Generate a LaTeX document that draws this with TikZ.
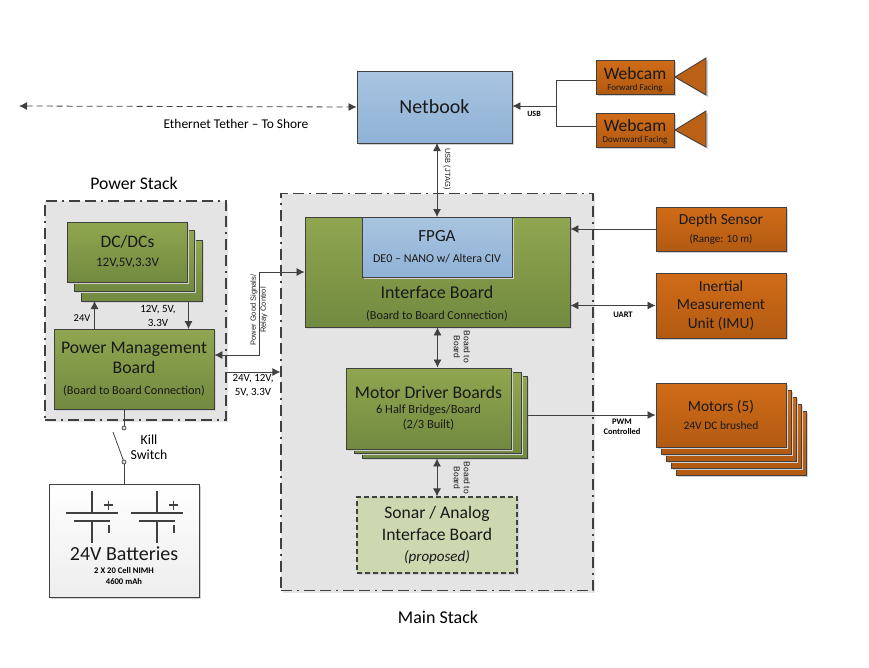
\documentclass[tikz,border=0pt]{standalone}
\usepackage{fontspec}
\setmainfont{Carlito}
\newfontfamily\armfont{Liberation Sans}
\usetikzlibrary{arrows.meta,shadows}
\definecolor{linegray}{HTML}{404040}
\definecolor{stackgray}{HTML}{E4E4E4}
\newcommand{\sz}[2]{\fontsize{#1}{#2}\selectfont}
\begin{document}
\begin{tikzpicture}[x=1pt,y=-1pt,
		>={Latex[length=8pt,width=8pt]},
		conn/.style={draw=linegray,line width=0.8pt},
		tag/.style={inner sep=0pt,align=center,text=black},
		sidetag/.style={inner sep=0pt,align=center,font=\armfont\sz{7.5}{10},text=black!90},
		board/.style={draw=linegray,line width=0.9pt,inner sep=0pt,align=center,text=black!90,drop shadow={shadow xshift=2pt,shadow yshift=-2pt,fill=black!18,opacity=1}},
		greenbox/.style={board,top color=green1,bottom color=green2},
		bluebox/.style={board,top color=blue1,bottom color=blue2},
		orangebox/.style={board,top color=orange1,bottom color=orange2},
		stackbox/.style={draw=linegray,fill=stackgray,line width=1.3pt,dash pattern=on 11pt off 5pt on 2pt off 5pt on 11pt off 5pt,drop shadow={shadow xshift=2pt,shadow yshift=-2pt,fill=black!10,opacity=1}},
		cell/.style={draw=linegray,line width=1.2pt},
		contact/.style={circle,draw=linegray,fill=stackgray,line width=0.7pt,minimum size=4pt,inner sep=0pt}
	]
	\definecolor{green1}{HTML}{90A650}
	\definecolor{green2}{HTML}{728A40}
	\definecolor{blue1}{HTML}{A8C4E0}
	\definecolor{blue2}{HTML}{90B2D6}
	\definecolor{orange1}{HTML}{D06C18}
	\definecolor{orange2}{HTML}{B25A12}
	\useasboundingbox (0,0) rectangle (869,667);

	\node[stackbox,minimum width=312pt,minimum height=397pt] (mainStack) at (437,392) {};
	\node[stackbox,minimum width=181pt,minimum height=219pt] (powerStack) at (135.5,310.5) {};
	\node[tag,font=\sz{17.7}{21}] (powerTitle) at (134,183) {Power Stack};
	\node[tag,font=\sz{18}{21}] (mainTitle) at (438,617) {Main Stack};

	\node[bluebox,minimum width=155pt,minimum height=72pt,font=\sz{20}{24}] (netbook) at (434.5,107) {Netbook};
	\node[orangebox,minimum width=78pt,minimum height=34pt] (webcamF) at (635,77) {};
	\node[orangebox,minimum width=78pt,minimum height=34pt] (webcamD) at (635,130) {};
	\foreach \y/\name/\note in {73/F/Forward Facing,125/D/Downward Facing} {
		\node[tag,font=\sz{17.5}{18},text=black!90] (webcam\name Title) at (635,\y) {Webcam};
		\node[tag,font=\sz{9}{10},text=black!90] (webcam\name Note) at (635,\y+15) {\note};
	}
	\draw[board,fill=orange1!90!black] (675,77) -- (706,58) -- (706,95) -- cycle;
	\draw[board,fill=orange1!90!black] (675,130) -- (706,111) -- (706,147) -- cycle;

	\node[greenbox,minimum width=121pt,minimum height=61pt] (dcdcBack) at (141.5,270.5) {};
	\node[greenbox,minimum width=120pt,minimum height=61pt] (dcdcMid) at (134,260.5) {};
	\node[greenbox,minimum width=119.5pt,minimum height=60pt] (dcdc) at (127.5,252) {\sz{17.5}{18}DC/DCs\\[7pt]\sz{13}{15}12V,5V,3.3V};
	\node[greenbox,minimum width=160pt,minimum height=80pt] (powerBoard) at (134,369) {\sz{17.7}{18}Power Management\\[4pt]\sz{17.7}{18}Board\\[9pt]\sz{12.2}{15}(Board to Board Connection)};

	\node[greenbox,minimum width=265pt,minimum height=110pt] (interface) at (437.5,272) {};
	\node[bluebox,minimum width=150pt,minimum height=60pt] (fpga) at (437,247) {\sz{17}{18}FPGA\\[9pt]\sz{12}{14}DE0 -- NANO w/ Altera CIV};
	\node[tag,font=\sz{18}{21},text=black!90] (interfaceTitle) at (437,292) {Interface Board};
	\node[tag,font=\sz{12.2}{15},text=black!90] (interfaceNote) at (437,316) {(Board to Board Connection)};

	\node[greenbox,minimum width=165pt,minimum height=82pt] (motorBack) at (444.5,417) {};
	\node[greenbox,minimum width=167pt,minimum height=81pt] (motorMid) at (437.5,412.5) {};
	\node[greenbox,minimum width=165pt,minimum height=81pt] (motorBoard) at (428.5,408.5) {\sz{17.7}{18}Motor Driver Boards\\[3pt]\sz{12.5}{15}6 Half Bridges/Board\\[3pt]\sz{12.5}{15}(2/3 Built)};
	\node[board,fill=green1!45,line width=1.2pt,dash pattern=on 5pt off 3pt,minimum width=160pt,minimum height=76pt] (sonar) at (437,535) {\sz{17.6}{18}Sonar / Analog\\[6pt]\sz{17.6}{18}Interface Board\\[9pt]\sz{15}{18}\textit{(proposed)}};

	\node[orangebox,minimum width=130pt,minimum height=44pt] (depth) at (721,229) {\sz{15.4}{17}Depth Sensor\\[6pt]\sz{11}{13}(Range: 10 m)};
	\node[orangebox,minimum width=130pt,minimum height=65pt,font=\sz{15.4}{18.5}] (imu) at (721,305.5) {Inertial\\Measurement\\Unit (IMU)};
	\foreach \i in {4,...,1}
		\node[orangebox,minimum width=130pt,minimum height=64pt] (motor\i) at (721+5*\i,415+7*\i) {};
	\node[orangebox,minimum width=130pt,minimum height=64pt] (motors) at (721,415) {\sz{15.4}{18}Motors (5)\\[6pt]\sz{11.5}{13}24V DC brushed};

	\node[board,top color=white,bottom color=black!7,minimum width=150pt,minimum height=113pt] (batteries) at (124,540.5) {};
	\foreach \x in {92,157} {
		\draw[cell] (\x,491) -- (\x,513) (\x-26,513) -- (\x+26,513);
		\draw[cell] (\x-18,521) -- (\x+18,521) (\x,521) -- (\x,543);
		\draw[cell] (\x+12,505) -- (\x+21,505) (\x+16.5,500.5) -- (\x+16.5,509.5);
		\draw[cell] (\x+17,525) -- (\x+17,533);
	}
	\node[tag,font=\sz{20}{24},text=black!90] (batteryTitle) at (124,554) {24V Batteries};
	\node[tag,font=\sz{8.6}{11}\bfseries] (batteryNote) at (124,576.5) {2 X 20 Cell NIMH\\4600 mAh};

	\coordinate (tether) at (19,106);
	\coordinate (usbJoin) at (556,106);
	\coordinate (jtagTop) at (437,143);
	\coordinate (jtagEnd) at (437,217);
	\coordinate (goodBend) at (259,355);
	\coordinate (railStart) at (226,372);
	\node[contact] (switchTop) at (124,428) {};
	\node[contact] (switchEnd) at (124,462) {};
	\coordinate (bladeEnd) at (113,432);

	\draw[conn,<->,dash pattern=on 6pt off 4pt] (tether) -- (netbook.west);
	\draw[conn] ([yshift=-3pt]webcamF.west) -| (usbJoin);
	\draw[conn] ([yshift=4pt]webcamD.west) -| (usbJoin);
	\draw[conn,->] (usbJoin) -- (usbJoin -| netbook.east);
	\draw[conn,<->] (jtagTop) -- (jtagEnd);
	\draw[conn,<-] (depth.west -| interface.east) -- (depth.west);
	\draw[conn,<->] (imu.west -| interface.east) -- (imu.west);
	\draw[conn,<->] (interface.south) -- (motorBoard.north -| interface.south);
	\draw[conn,<->] (motorBack.south -| sonar.north) -- (sonar.north);
	\draw[conn,->] (motorBack.east |- motors.west) -- (motors.west);
	\draw[conn,<->] (goodBend -| powerBoard.east) -- (goodBend) |- (interface.west);
	\draw[conn,->] (railStart) -- (railStart -| mainStack.west);
	\draw[conn,->] (94.5,329) -- (94.5,301);
	\draw[conn,->] (188.5,301) -- (188.5,329);
	\draw[conn] (powerBoard.south -| switchTop) -- (switchTop);
	\draw[conn] (switchEnd) -- (batteries.north -| switchEnd);
	\draw[conn] (bladeEnd) -- (switchEnd);

	\node[tag,font=\sz{13.4}{16}] (tetherTag) at (236,124) {Ethernet Tether -- To Shore};
	\node[tag,font=\sz{8}{9}\bfseries] (usbTag) at (534,114) {USB};
	\node[sidetag,rotate=-90] (jtagTag) at (447,169) {USB (JTAG)};
	\node[sidetag,rotate=90] (goodTag) at (259,310) {Power Good Signals/\\Relay Control};
	\node[sidetag,font=\armfont\sz{8.5}{10},rotate=-90] (boardTagA) at (462,347) {Board to\\Board};
	\node[sidetag,font=\armfont\sz{8.5}{10},rotate=-90] (boardTagB) at (462,478) {Board to\\Board};
	\node[tag,font=\sz{8.5}{9}\bfseries] (uartTag) at (623,315) {UART};
	\node[tag,font=\sz{8.5}{10}\bfseries] (pwmTag) at (622,427) {PWM\\Controlled};
	\node[tag,font=\sz{11}{14}] (dcOutTag) at (158,315.5) {12V, 5V,\\3.3V};
	\node[tag,font=\sz{10.5}{12}] (dcInTag) at (82,318) {24V};
	\node[tag,font=\sz{11}{14}] (railTag) at (253,386) {24V, 12V,\\5V, 3.3V};
	\node[tag,font=\sz{13.8}{15}] (killTag) at (149,447.5) {Kill\\Switch};
\end{tikzpicture}
\end{document}
